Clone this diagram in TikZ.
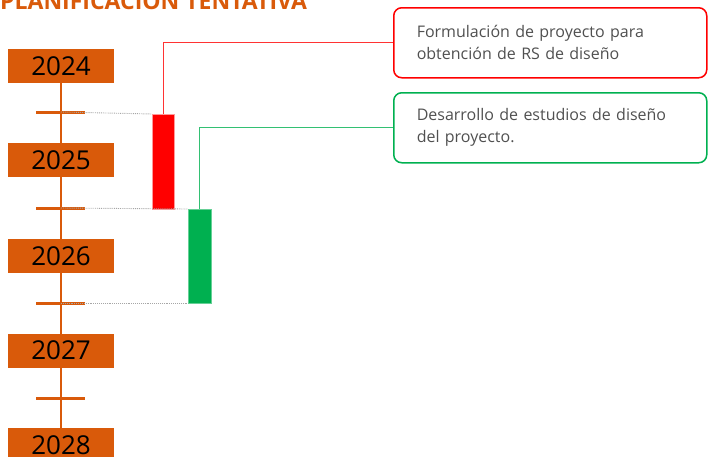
\documentclass[tikz,border=0pt]{standalone}
\usepackage{fontspec}
\setmainfont{Open Sans}
\usetikzlibrary{positioning, calc}

\definecolor{planorange}{RGB}{217,90,10}
\definecolor{planred}{RGB}{255,0,0}
\definecolor{plangreen}{RGB}{0,176,80}
\definecolor{plantext}{RGB}{80,80,80}

\begin{document}
\begin{tikzpicture}[
    x=1pt, y=-1pt,
    year/.style={
        rectangle,
        fill=planorange,
        minimum width=106pt,
        minimum height=34pt,
        inner sep=0pt,
        outer sep=0pt,
        font=\fontsize{26}{26}\selectfont
    },
    tick/.style={
        line width=3pt,
        color=planorange
    },
    bar/.style={
        rectangle,
        anchor=north west,
        minimum width=22pt,
        inner sep=0pt,
        outer sep=0pt
    },
    note/.style={
        rectangle,
        rounded corners=8pt,
        line width=1.5pt,
        anchor=north west,
        minimum width=313pt,
        minimum height=70pt,
        text width=267pt,
        inner xsep=23pt,
        align=left,
        text=plantext,
        font=\fontsize{16}{22}\selectfont
    },
    guide/.style={
        densely dotted,
        color=gray!70,
        line width=0.9pt
    }
]
    \useasboundingbox (0,0) rectangle (713,456);

    % -- Title --
    \node[anchor=south west, inner sep=0pt, text=planorange,
          font=\fontsize{23}{23}\selectfont\bfseries] (title) at (0,10) {PLANIFICACION TENTATIVA};

    % -- Timeline --
    \draw[line width=2.5pt, planorange] (61,66) -- (61,456);

    \node[year] (y2024) at (61,66) {2024};
    \node[year] (y2025) at (61,160) {2025};
    \node[year] (y2026) at (61,256) {2026};
    \node[year] (y2027) at (61,350.5) {2027};
    \node[year] (y2028) at (61,445) {2028};

    \coordinate (tick1) at (61,112);
    \coordinate (tick2) at (61,208);
    \coordinate (tick3) at (61,303);
    \coordinate (tick4) at (61,398);
    \draw[tick] ($(tick1)+(-25,0)$) -- ($(tick1)+(24,0)$);
    \draw[tick] ($(tick2)+(-25,0)$) -- ($(tick2)+(24,0)$);
    \draw[tick] ($(tick3)+(-25,0)$) -- ($(tick3)+(24,0)$);
    \draw[tick] ($(tick4)+(-25,0)$) -- ($(tick4)+(24,0)$);

    % -- Bars --
    \node[bar, fill=planred, draw=planred!40, minimum height=95pt] (redbar) at (152,114) {};
    \node[bar, fill=plangreen, draw=plangreen!60, minimum width=23pt, minimum height=94pt] (greenbar) at (188,209) {};

    % Guides from ticks to bars
    \draw[guide] (tick1) -- (redbar.north west);
    \draw[guide] (tick2) -- (greenbar.north west);
    \draw[guide] (tick3) -- (greenbar.south west);

    % -- Notes --
    \node[note, draw=planred] (rednote) at (393,7) {Formulación de proyecto para\\obtención de RS de diseño};
    \node[note, draw=plangreen] (greennote) at (393,92) {Desarrollo de estudios de diseño\\del proyecto.};

    \draw[planred!80, line width=1pt] (redbar.north) |- (rednote.west);
    \draw[plangreen!80, line width=1pt] (greenbar.north) |- (greennote.west);

\end{tikzpicture}
\end{document}
